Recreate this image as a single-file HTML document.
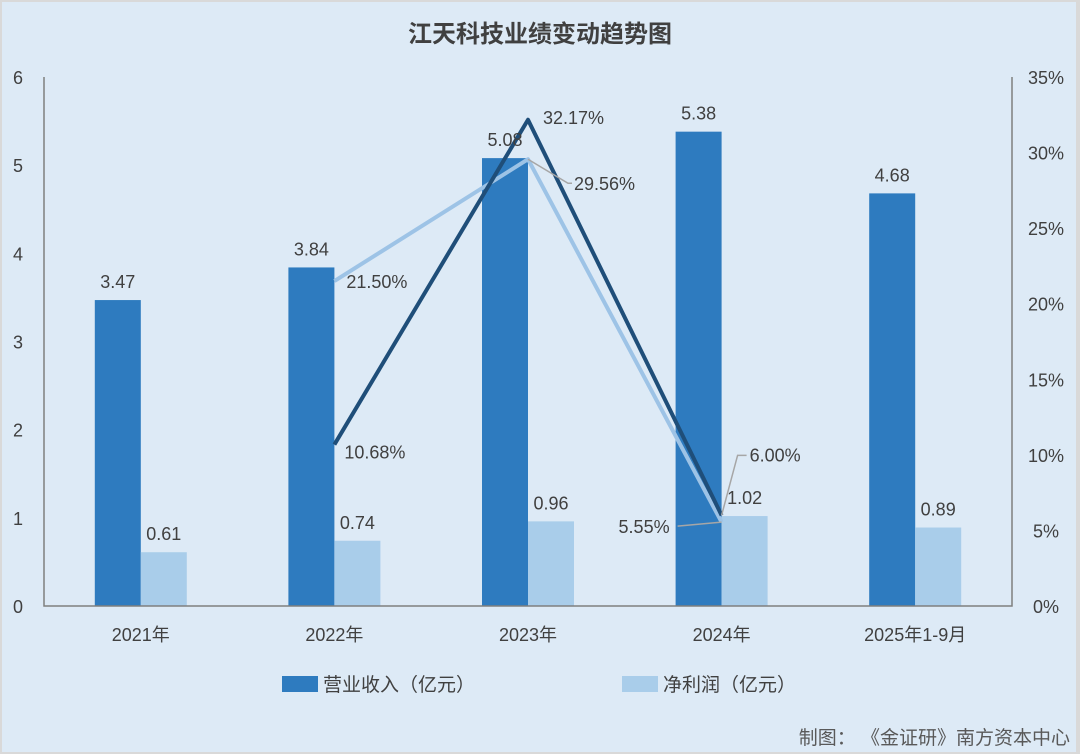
<!DOCTYPE html>
<html><head><meta charset="utf-8"><style>
body{margin:0;background:#d9d9d9;}
svg{display:block;font-family:"Liberation Sans","Noto Sans CJK SC",sans-serif;}
</style></head><body>
<svg id="c" width="1080" height="754" viewBox="0 0 1080 754">
<rect x="2" y="2" width="1074" height="750" fill="#ddeaf6"/>
<text x="540" y="42" text-anchor="middle" font-size="24" font-weight="bold" fill="#404040">江天科技业绩变动趋势图</text>
<g id="plot"></g>
<g>
<rect x="282" y="676" width="36" height="16" fill="#2e7bbf"/>
<text x="323" y="691" font-size="19" fill="#404040">营业收入（亿元）</text>
<rect x="622" y="676" width="36" height="16" fill="#a9cdea"/>
<text x="663" y="691" font-size="19" fill="#404040">净利润（亿元）</text>
</g>
<text x="1070" y="744" text-anchor="end" font-size="19" fill="#595959">制图： 《金证研》南方资本中心</text>
</svg>
<script>
const categories=["2021年","2022年","2023年","2024年","2025年1-9月"];
const revenue=[3.47,3.84,5.08,5.38,4.68];
const profit=[0.61,0.74,0.96,1.02,0.89];
const revGrowth=[null,10.68,32.17,6.00,null];
const profitGrowth=[null,21.50,29.56,5.55,null];
const leftTicks=[0,1,2,3,4,5,6];
const rightTicks=[0,5,10,15,20,25,30,35];
const NS="http://www.w3.org/2000/svg";
const g=document.getElementById('plot');
const X0=44,X1=1012,Y0=606,Y1=77;
const band=(X1-X0)/categories.length;
const xc=i=>X0+band*(i+0.5);
const yl=v=>Y0-(v/6)*(Y0-Y1);
const yr=v=>Y0-(v/35)*(Y0-Y1);
function mk(t,a,txt){const e=document.createElementNS(NS,t);for(const k in a)e.setAttribute(k,a[k]);if(txt!=null)e.textContent=txt;g.appendChild(e);return e;}
const BW=46;
categories.forEach((c,i)=>{
 let r=mk('rect',{x:xc(i)-BW,y:yl(revenue[i]),width:BW,height:Y0-yl(revenue[i]),fill:'#2e7bbf'});
 
 
 let p=mk('rect',{x:xc(i),y:yl(profit[i]),width:BW,height:Y0-yl(profit[i]),fill:'#a9cdea'});
 
 
 let xl=mk('text',{x:xc(i),y:641,'text-anchor':'middle','font-size':18,fill:'#404040'},c);
 
 
});
leftTicks.forEach(v=>{let t=mk('text',{x:18,y:yl(v)+7,'text-anchor':'middle','font-size':18,fill:'#404040'},v);
 
 });
rightTicks.forEach(v=>{let t=mk('text',{x:1046,y:yr(v)+7,'text-anchor':'middle','font-size':18,fill:'#404040'},v+'%');
 
 });
let ax=mk('path',{d:`M${X0} ${Y1}V${Y0}H${X1}V${Y1}`,fill:'none',stroke:'#7f7f7f','stroke-width':1.5});


function line(arr,col,name){const pts=[];arr.forEach((v,i)=>{if(v!=null)pts.push(xc(i)+','+yr(v));});
 let l=mk('polyline',{points:pts.join(' '),fill:'none',stroke:col,'stroke-width':4,'stroke-linejoin':'round'});
 
 }
line(profitGrowth,'#9dc3e6','line-profit-growth');
line(revGrowth,'#1f4e79','line-revenue-growth');
categories.forEach((c,i)=>{
 let t1=mk('text',{x:xc(i)-BW/2,y:yl(revenue[i])-12,'text-anchor':'middle','font-size':18,fill:'#404040'},revenue[i].toFixed(2));
 
 
 let t2=mk('text',{x:xc(i)+BW/2,y:yl(profit[i])-12,'text-anchor':'middle','font-size':18,fill:'#404040'},profit[i].toFixed(2));
 
 
});
function lbl(x,y,txt,anchor,name){let t=mk('text',{x:x,y:y,'text-anchor':anchor||'start','font-size':18,fill:'#404040'},txt);
 
 }
function lead(d,name){let p=mk('path',{d:d,fill:'none',stroke:'#a6a6a6','stroke-width':1.5});
 
 }
lbl(xc(1)+10,yr(revGrowth[1])+14,revGrowth[1].toFixed(2)+'%','start','label-rev-growth-1');
lbl(xc(2)+15,yr(revGrowth[2])+4,revGrowth[2].toFixed(2)+'%','start','label-rev-growth-2');
lead(`M${xc(3)} ${yr(revGrowth[3])}L${xc(3)+16} ${yr(revGrowth[3])-60}H${xc(3)+25}`,'leader-rev-growth-3');
lbl(xc(3)+28,yr(revGrowth[3])-54,revGrowth[3].toFixed(2)+'%','start','label-rev-growth-3');
lbl(xc(1)+12,yr(profitGrowth[1])+7,profitGrowth[1].toFixed(2)+'%','start','label-profit-growth-1');
lead(`M${xc(2)} ${yr(profitGrowth[2])}L${xc(2)+40} ${yr(profitGrowth[2])+24}H${xc(2)+44}`,'leader-profit-growth-2');
lbl(xc(2)+46,yr(profitGrowth[2])+31,profitGrowth[2].toFixed(2)+'%','start','label-profit-growth-2');
lead(`M${xc(3)} ${yr(profitGrowth[3])}L${xc(3)-44} ${yr(profitGrowth[3])+4}`,'leader-profit-growth-3');
lbl(xc(3)-52,yr(profitGrowth[3])+11,profitGrowth[3].toFixed(2)+'%','end','label-profit-growth-3');
</script>
</body></html>
